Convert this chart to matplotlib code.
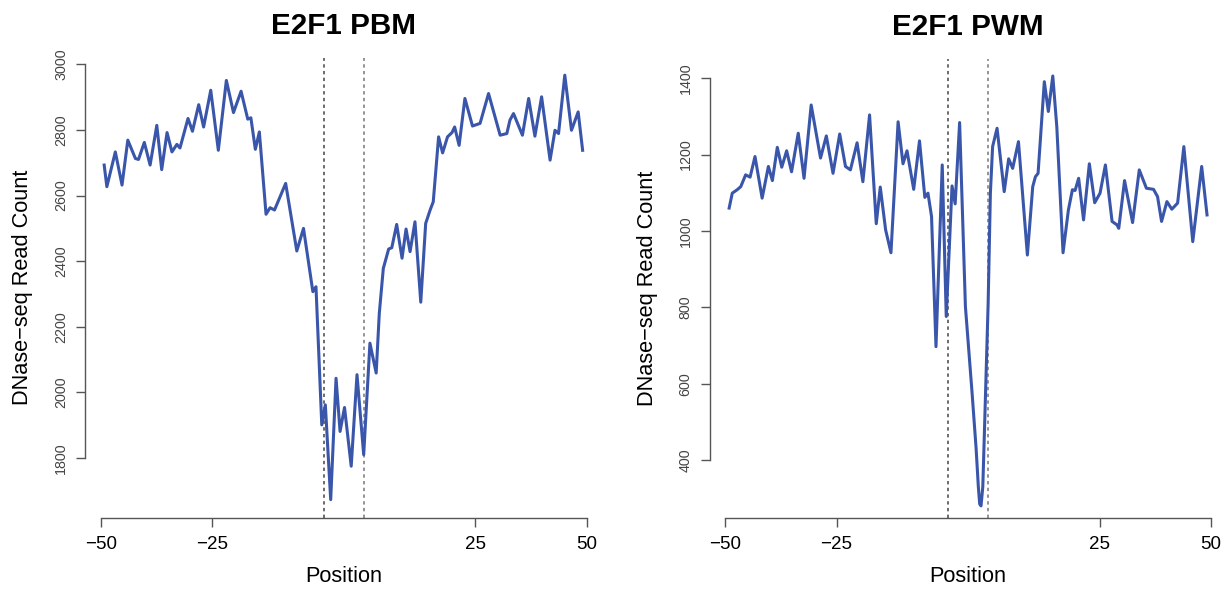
import numpy as np
import matplotlib
matplotlib.use('Agg')
import matplotlib.pyplot as plt

plt.rcParams['font.family'] = ['Liberation Sans', 'DejaVu Sans']

# positions (flank -50..50 with the 9 bp motif inserted between 0 and 9)
x_pbm = [-49.2, -48.6, -46.7, -45.2, -43.9, -42.2, -41.5, -40.2, -38.9, -37.4, -36.3, -35.1, -34.0,
         -32.9, -32.2, -30.4, -29.4, -28.0, -26.9, -25.3, -23.6, -21.8, -20.2, -18.5, -17.0, -16.3,
         -15.3, -14.4, -12.9, -12.0, -11.0, -8.5, -6.0, -4.5, -2.4, -1.7, -0.4, 0.4, 1.6, 2.8, 3.7,
         4.7, 6.2, 7.5, 9.0, 10.4, 11.8, 12.5, 13.4, 14.6, 15.3, 16.4, 17.6, 18.5, 19.4, 20.5, 21.8,
         22.9, 23.9, 24.6, 25.8, 26.7, 27.8, 28.8, 29.4, 30.4, 31.7, 33.4, 35.1, 37.0, 39.6, 41.1,
         41.8, 42.6, 44.6, 46.0, 47.4, 48.9, 50.8, 51.9, 52.7, 54.1, 55.6, 57.1, 58.1]
y_pbm = [2693, 2627, 2733, 2632, 2769, 2713, 2710, 2762, 2693, 2814, 2679, 2792, 2733,
         2756, 2745, 2835, 2796, 2877, 2809, 2921, 2738, 2951, 2853, 2918, 2833, 2837,
         2741, 2794, 2543, 2563, 2556, 2637, 2431, 2500, 2307, 2322, 1901, 1962, 1673, 2043, 1881,
         1954, 1775, 2054, 1810, 2150, 2059, 2241, 2378, 2437, 2441, 2512, 2409, 2498, 2429, 2520, 2275,
         2515, 2556, 2581, 2779, 2730, 2779, 2792, 2809, 2753, 2896, 2812, 2820, 2911, 2784, 2789,
         2830, 2850, 2784, 2896, 2781, 2901, 2708, 2799, 2789, 2967, 2799, 2855, 2738]

x_pwm = [-49.1, -48.4, -47.3, -46.5, -45.4, -44.4, -43.3, -41.7, -40.3, -39.4, -38.3, -37.3, -36.2,
         -35.1, -33.6, -32.3, -30.7, -28.6, -27.3, -25.8, -24.3, -23.0, -21.9, -20.4, -19.1, -17.6,
         -16.1, -15.2, -14.0, -12.8, -11.2, -10.1, -9.2, -7.7, -6.4, -5.2, -4.5, -3.7, -2.7, -1.3,
         -0.4, 0.9, 1.6, 2.6, 3.1, 3.9, 5.4, 6.3, 6.8, 7.1, 7.4, 7.8, 8.2, 9.0, 9.5, 10.0, 11.0, 12.6,
         13.6, 14.5, 15.8, 17.8, 19.0, 19.6, 20.2, 21.6, 22.5, 23.5, 24.4, 25.8, 27.0, 27.9, 28.5, 29.3,
         30.4, 31.7, 32.9, 34.1, 35.3, 36.8, 37.9, 38.3, 39.6, 41.4, 42.9, 44.5, 46.1, 47.0, 47.9,
         49.1, 50.2, 51.5, 52.9, 54.9, 56.9, 58.1]
y_pwm = [1060, 1099, 1108, 1116, 1147, 1141, 1195, 1086, 1169, 1132, 1219, 1167, 1210,
         1155, 1256, 1138, 1330, 1191, 1249, 1151, 1254, 1169, 1160, 1231, 1129, 1304,
         1019, 1115, 1003, 943, 1286, 1176, 1210, 1109, 1236, 1088, 1099, 1038, 697, 1173,
         776, 1118, 1071, 1284, 1099, 802, 575, 430, 330, 285, 280, 330, 488, 811, 1099, 1221, 1269, 1103,
         1189, 1164, 1234, 937, 1116, 1142, 1151, 1391, 1313, 1406, 1273, 943, 1055, 1108, 1106, 1138,
         1029, 1176, 1074, 1099, 1173, 1025, 1016, 1007, 1132, 1022, 1160, 1112, 1109, 1090, 1025,
         1077, 1057, 1073, 1221, 972, 1169, 1042]

motif_edges = [0, 9]
xtick_pos = [-50, -25, 34, 59]
xtick_lab = ['\u221250', '\u221225', '25', '50']

panels = [
    dict(title='E2F1 PBM', x=x_pbm, y=y_pbm, ylim=(1618, 3020), yticks=np.arange(1800, 3001, 200),
         rect=[0.0697, 0.1255, 0.4208, 0.7769]),
    dict(title='E2F1 PWM', x=x_pwm, y=y_pwm, ylim=(249, 1451), yticks=np.arange(400, 1401, 200),
         rect=[0.5791, 0.1255, 0.4207, 0.7752]),
]

fig = plt.figure(figsize=(12.26, 5.92), dpi=100)
for p in panels:
    ax = fig.add_axes(p['rect'])
    ax.plot(p['x'], p['y'], color='#3a56aa', lw=2.2, solid_joinstyle='round')
    for i, xv in enumerate(motif_edges):
        ax.axvline(xv, color='#444444' if i == 0 else '#777777', lw=1.1, ls=(0, (2.2, 2.2)), zorder=1)
    ax.set_xlim(-53.4, 62.3)
    ax.set_ylim(*p['ylim'])
    for s in ['top', 'right']:
        ax.spines[s].set_visible(False)
    ax.spines['left'].set_bounds(p['yticks'][0], p['yticks'][-1])
    ax.spines['bottom'].set_bounds(-50, 59)
    for s in ['left', 'bottom']:
        ax.spines[s].set_color('#555555')
        ax.spines[s].set_linewidth(1.0)
    ax.set_xticks(xtick_pos)
    ax.set_xticklabels(xtick_lab, fontsize=13.5)
    ax.set_yticks(p['yticks'])
    ax.set_yticklabels([str(v) for v in p['yticks']], fontsize=10.3, rotation=90, va='center', color='#444444')
    ax.tick_params(axis='x', length=6.5, width=1.0, color='#555555', pad=7)
    ax.tick_params(axis='y', length=6.5, width=1.0, color='#555555', pad=6)
    ax.set_xlabel('Position', fontsize=15.7, labelpad=9)
    ax.set_ylabel('DNase\u2212seq Read Count', fontsize=15.7)
    ax.yaxis.set_label_coords(-0.101, 0.5)
    ax.set_title(p['title'], fontsize=21.3, fontweight='bold', pad=17)

fig.savefig('out.png', dpi=100)
